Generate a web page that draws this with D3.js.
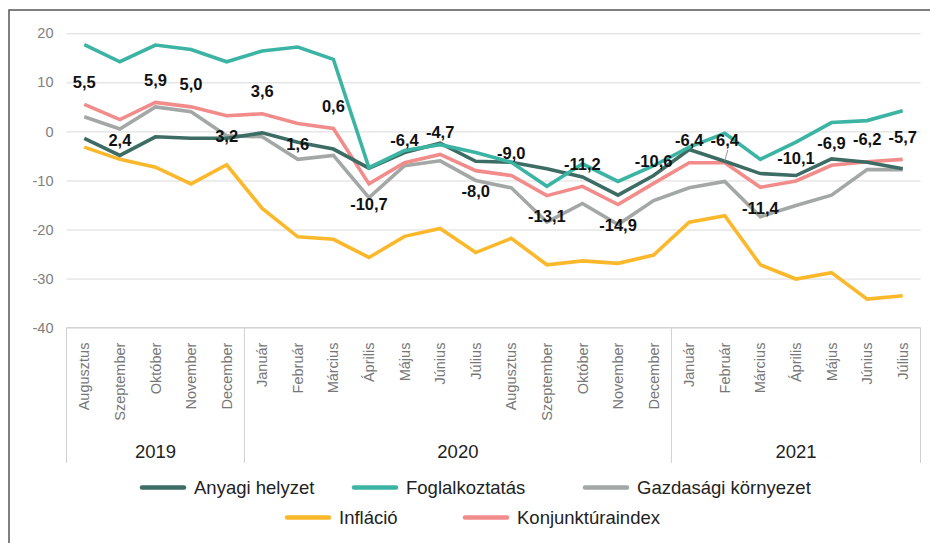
<!DOCTYPE html>
<html>
<head>
<meta charset="utf-8">
<script src="https://cdn.jsdelivr.net/npm/d3@7"></script>
<style>
  body { margin: 0; background: #fff; }
  svg { display: block; font-family: "Liberation Sans", Arial, sans-serif; }
</style>
</head>
<body>
<div id="chart"></div>
<script>
// months shown on the axis, Aug 2019 - Jul 2021
var months = ['Augusztus', 'Szeptember', 'Október', 'November', 'December',
  'Január', 'Február', 'Március', 'Április', 'Május', 'Június', 'Július',
  'Augusztus', 'Szeptember', 'Október', 'November', 'December',
  'Január', 'Február', 'Március', 'Április', 'Május', 'Június', 'Július'];
var years = ['2019', '2020', '2021'];
var monthsPerYear = [5, 12, 7];

var anyagi = [-1.4, -4.9, -1.1, -1.4, -1.4, -0.3, -2.2, -3.6, -7.5, -4.3, -2.4, -6.1,
  -6.3, -7.6, -9.3, -13.0, -9.0, -3.7, -6.1, -8.6, -9.0, -5.6, -6.3, -7.6];
var foglalkoztatas = [17.7, 14.2, 17.6, 16.7, 14.2, 16.4, 17.2, 14.7, -7.4, -3.9, -2.7, -4.3,
  -6.3, -11.2, -6.6, -10.2, -7.0, -3.2, -0.4, -5.7, -2.2, 1.8, 2.2, 4.2];
var gazdasagi = [3.0, 0.5, 5.0, 4.0, -0.9, -1.1, -5.7, -4.9, -13.5, -7.0, -6.0, -10.0,
  -11.5, -18.5, -14.7, -19.0, -14.1, -11.5, -10.2, -17.4, -15.1, -13.0, -7.8, -7.8];
var inflacio = [-3.2, -5.7, -7.3, -10.7, -6.8, -15.7, -21.5, -22.0, -25.7, -21.4, -19.8, -24.7,
  -21.8, -27.2, -26.4, -26.9, -25.2, -18.5, -17.2, -27.2, -30.1, -28.8, -34.2, -33.5];
var konjunktura = [5.5, 2.4, 5.9, 5.0, 3.2, 3.6, 1.6, 0.6, -10.7, -6.4, -4.7, -8.0,
  -9.0, -13.1, -11.2, -14.9, -10.6, -6.4, -6.4, -11.4, -10.1, -6.9, -6.2, -5.7];
var yTicks = [-40, -30, -20, -10, 0, 10, 20];

// label above (1) or below (-1) the Konjunktúraindex point
var labelSide = [1, -1, 1, 1, -1, 1, -1, 1, -1, 1, 1, -1,
  1, -1, 1, -1, 1, 1, 1, -1, 1, 1, 1, 1];

var series = [
  { name: 'Anyagi helyzet', values: anyagi, colour: '#3d6c64' },
  { name: 'Foglalkoztatás', values: foglalkoztatas, colour: '#3cb4a3' },
  { name: 'Gazdasági környezet', values: gazdasagi, colour: '#a3a7a6' },
  { name: 'Infláció', values: inflacio, colour: '#fbb82b' },
  { name: 'Konjunktúraindex', values: konjunktura, colour: '#f28c8a' }
];
// draw order (back to front)
var drawOrder = [3, 2, 4, 0, 1];

(function() {
  var width = 930, height = 543;
  var plotLeft = 66.5, plotRight = 920.5, plotTop = 33.3, plotBottom = 327.6, axisBottom = 463;

  var hu = d3.formatLocale({ decimal: ',', thousands: ' ', grouping: [3], currency: ['', ''], minus: '-' });
  var fmt = hu.format('.1f');
  var tickFmt = hu.format('d');

  var svg = d3.select('#chart').append('svg')
    .attr('width', width)
    .attr('height', height);

  var x = d3.scaleBand()
    .domain(d3.range(months.length))
    .range([plotLeft, plotRight]);

  var y = d3.scaleLinear()
    .domain([-40, 20])
    .range([plotBottom, plotTop]);

  var cx = function(i) { return x(i) + x.bandwidth() / 2; };

  //frame
  svg.append('path')
    .attr('d', 'M9,' + height + 'V10H' + width)
    .attr('fill', 'none')
    .attr('stroke', '#555')
    .attr('stroke-width', 1.5);

  //gridlines and y labels
  var yAxis = svg.append('g')
    .attr('transform', 'translate(' + plotLeft + ',0)')
    .call(d3.axisLeft(y).tickValues(yTicks).tickFormat(tickFmt)
      .tickSize(-(plotRight - plotLeft)).tickPadding(13));
  yAxis.select('.domain').remove();
  yAxis.selectAll('.tick line').attr('stroke', '#d9d9d9').attr('stroke-width', 1);
  yAxis.selectAll('.tick text')
    .attr('fill', '#808080')
    .attr('font-size', '14.5px')
    .attr('font-family', '"Liberation Sans", Arial, sans-serif');

  //category axis
  var cat = svg.append('g');
  cat.append('line')
    .attr('x1', plotLeft).attr('x2', plotRight)
    .attr('y1', plotBottom).attr('y2', plotBottom)
    .attr('stroke', '#d0d0d0');

  var bounds = [0];
  monthsPerYear.forEach(function(n, i) { bounds.push(bounds[i] + n); });
  var edge = function(b) { return b < months.length ? x(b) : plotRight; };
  bounds.forEach(function(b) {
    cat.append('line')
      .attr('x1', edge(b)).attr('x2', edge(b))
      .attr('y1', plotBottom).attr('y2', axisBottom)
      .attr('stroke', '#d0d0d0');
  });

  cat.selectAll('.month')
    .data(months)
    .enter().append('text')
    .attr('class', 'month')
    .attr('transform', function(d, i) { return 'translate(' + cx(i) + ',' + (plotBottom + 15) + ') rotate(-90)'; })
    .attr('dy', '0.35em')
    .attr('text-anchor', 'end')
    .attr('fill', '#777')
    .attr('font-size', '14.5px')
    .text(function(d) { return d; });

  cat.selectAll('.year')
    .data(years)
    .enter().append('text')
    .attr('class', 'year')
    .attr('x', function(d, i) { return (edge(bounds[i]) + edge(bounds[i + 1])) / 2; })
    .attr('y', 457.5)
    .attr('text-anchor', 'middle')
    .attr('fill', '#222')
    .attr('font-size', '18.5px')
    .text(function(d) { return d; });

  //lines
  var line = d3.line()
    .x(function(d, i) { return cx(i); })
    .y(function(d) { return y(d); });

  svg.append('g').selectAll('path')
    .data(drawOrder.map(function(i) { return series[i]; }))
    .enter().append('path')
    .attr('d', function(s) { return line(s.values); })
    .attr('fill', 'none')
    .attr('stroke', function(s) { return s.colour; })
    .attr('stroke-width', 3.6)
    .attr('stroke-linejoin', 'miter')
    .attr('stroke-linecap', 'butt');

  //value labels for Konjunktúraindex
  var labels = svg.append('g');
  labels.append('line')
    .attr('x1', cx(18) + 3).attr('y1', y(konjunktura[18]) - 13)
    .attr('x2', cx(18)).attr('y2', y(konjunktura[18]) - 2)
    .attr('stroke', '#999').attr('stroke-width', 1);

  labels.selectAll('text')
    .data(konjunktura)
    .enter().append('text')
    .attr('x', function(d, i) { return cx(i); })
    .attr('y', function(d, i) { return y(d) + (labelSide[i] > 0 ? -22.5 : 20.5); })
    .attr('dy', '0.36em')
    .attr('text-anchor', 'middle')
    .attr('fill', '#111')
    .attr('font-size', '16.5px')
    .attr('font-weight', 'bold')
    .text(function(d) { return fmt(d); });

  //legend
  var legendRows = [
    [{ s: 0, x: 142 }, { s: 1, x: 354 }, { s: 2, x: 585 }],
    [{ s: 3, x: 287 }, { s: 4, x: 465 }]
  ];
  var legend = svg.append('g');
  legendRows.forEach(function(row, r) {
    var ly = 487.5 + r * 30;
    row.forEach(function(item) {
      var s = series[item.s];
      legend.append('line')
        .attr('x1', item.x).attr('x2', item.x + 42)
        .attr('y1', ly).attr('y2', ly)
        .attr('stroke', s.colour)
        .attr('stroke-width', 4.5)
        .attr('stroke-linecap', 'round');
      legend.append('text')
        .attr('x', item.x + 52)
        .attr('y', ly)
        .attr('dy', '0.35em')
        .attr('fill', '#222')
        .attr('font-size', '18.5px')
        .text(s.name);
    });
  });
})();
</script>
</body>
</html>
